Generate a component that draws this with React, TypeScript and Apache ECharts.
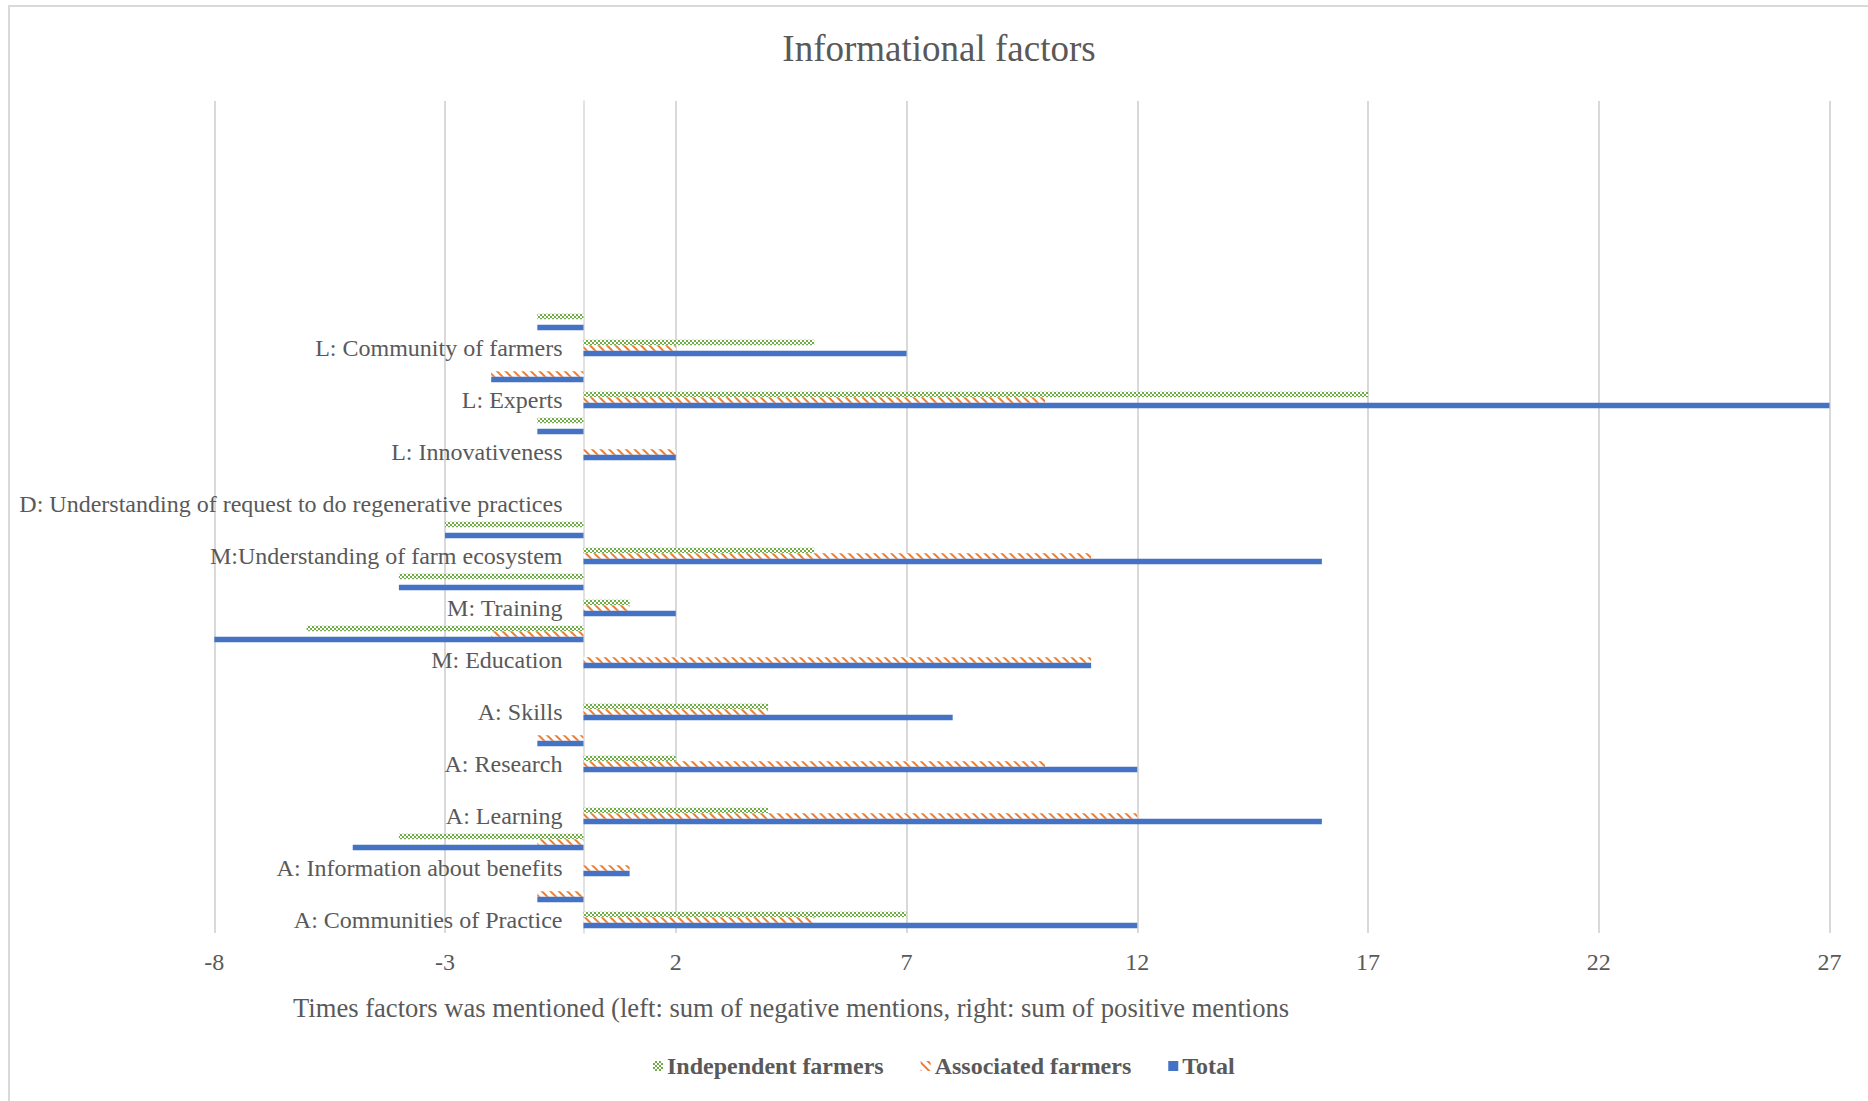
import React, { useEffect, useRef } from "react";
import * as echarts from "echarts";

// Factor names, bottom to top on the category axis
const categories = [
  "A: Communities of Practice",
  "A: Information about benefits",
  "A: Learning",
  "A: Research",
  "A: Skills",
  "M: Education",
  "M: Training",
  "M:Understanding of farm ecosystem",
  "D: Understanding of request to do regenerative practices",
  "L: Innovativeness",
  "L: Experts",
  "L: Community of farmers",
];

// Sum of positive mentions per factor
const independentPositive = [7, 0, 4, 2, 4, 0, 1, 5, 0, 0, 17, 5];
const associatedPositive = [5, 1, 12, 10, 4, 11, 1, 11, 0, 2, 10, 2];
const totalPositive = [12, 1, 16, 12, 8, 11, 2, 16, 0, 2, 27, 7];

// Sum of negative mentions per factor
const independentNegative = [0, -4, 0, 0, 0, -6, -4, -3, 0, -1, 0, -1];
const associatedNegative = [-1, -1, 0, -1, 0, -2, 0, 0, 0, 0, -2, 0];
const totalNegative = [-1, -5, 0, -1, 0, -8, -4, -3, 0, -1, -2, -1];

// Unused category slots left empty above the last factor
const emptySlotsAbove = 4;

// Value axis range and tick step
const valueMin = -8;
const valueMax = 27;
const valueStep = 5;

const seriesNames = ["Independent farmers", "Associated farmers", "Total"];

const TEXT = "#595959";
const GRID = "#d9d9d9";
const FONT = "'Liberation Serif', 'Times New Roman', serif";

// Plot rectangle
const GRID_LEFT = 214.3;
const GRID_RIGHT = 38.5;
const GRID_WIDTH = 1868 - GRID_LEFT - GRID_RIGHT;
// The category axis sits where the value axis reads zero
const zeroOffset = (GRID_WIDTH * (0 - valueMin)) / (valueMax - valueMin);

// Each factor gets two rows: positive mentions (labelled) with its negative row just above
const rowLabels: string[] = [];
categories.forEach((c) => {
  rowLabels.push(c);
  rowLabels.push("");
});
for (let i = 0; i < emptySlotsAbove * 2; i++) rowLabels.push("");
const rowKeys = rowLabels.map((_, i) => "row" + i);
const labelByKey: Record<string, string> = {};
rowKeys.forEach((k, i) => (labelByKey[k] = rowLabels[i]));

function rows(pos: number[], neg: number[]) {
  const out: (number | null)[] = [];
  pos.forEach((p, i) => {
    out.push(p === 0 ? null : p);
    out.push(neg[i] === 0 ? null : neg[i]);
  });
  for (let i = 0; i < emptySlotsAbove * 2; i++) out.push(null);
  return out;
}

const independentRows = rows(independentPositive, independentNegative);
const associatedRows = rows(associatedPositive, associatedNegative);
const totalRows = rows(totalPositive, totalNegative);

const BAR_W = 5.5;

const option: any = {
  animation: false,
  backgroundColor: "#ffffff",
  graphic: [
    {
      type: "rect",
      silent: true,
      shape: { x: 9, y: 6, width: 1880, height: 1120 },
      style: { fill: "none", stroke: GRID, lineWidth: 2 },
    },
    {
      type: "text",
      x: 939,
      y: 48,
      style: {
        text: "Informational factors",
        font: `37px ${FONT}`,
        fill: TEXT,
        align: "center",
        verticalAlign: "middle",
      },
    },
    {
      type: "text",
      x: 293,
      y: 1008,
      style: {
        text: "Times factors was mentioned (left: sum of negative mentions, right: sum of positive mentions",
        font: `26.6px ${FONT}`,
        fill: TEXT,
        align: "left",
        verticalAlign: "middle",
      },
    },
  ],
  legend: {
    data: seriesNames,
    left: 648,
    top: 1049,
    icon: "rect",
    itemWidth: 10,
    itemHeight: 10,
    itemGap: 37,
    textStyle: {
      color: TEXT,
      fontSize: 24,
      fontWeight: "bold",
      fontFamily: FONT,
      padding: [0, 0, 0, -1],
    },
  },
  grid: {
    left: GRID_LEFT,
    right: GRID_RIGHT,
    top: 101,
    bottom: 168,
    containLabel: false,
    outerBoundsMode: "none",
  },
  xAxis: {
    type: "value",
    min: valueMin,
    max: valueMax,
    interval: valueStep,
    axisLine: { show: false },
    axisTick: { show: false },
    splitLine: { show: true, lineStyle: { color: GRID, width: 2 } },
    axisLabel: { color: TEXT, fontSize: 24, fontFamily: FONT, margin: 17 },
  },
  yAxis: {
    type: "category",
    data: rowKeys,
    position: "left",
    offset: -zeroOffset,
    axisLine: { show: true, onZero: false, lineStyle: { color: GRID, width: 1.5 } },
    axisTick: { show: false },
    splitLine: { show: false },
    axisLabel: {
      interval: 0,
      margin: 21,
      color: TEXT,
      fontSize: 24,
      fontFamily: FONT,
      formatter: (v: string) => labelByKey[v] ?? "",
    },
  },
  series: [
    {
      name: seriesNames[0],
      type: "bar",
      data: independentRows,
      barWidth: BAR_W,
      barGap: "0%",
      itemStyle: {
        color: "#ffffff",
        decal: {
          symbol: "rect",
          symbolSize: 1,
          color: "#70AD47",
          dashArrayX: [
            [1.5, 1.5],
            [0, 1.5, 1.5, 0],
          ],
          dashArrayY: [1.5, 0],
          rotation: 0,
        },
      },
    },
    {
      name: seriesNames[1],
      type: "bar",
      data: associatedRows,
      barWidth: BAR_W,
      barGap: "0%",
      itemStyle: {
        color: "#ffffff",
        decal: {
          symbol: "rect",
          symbolSize: 1,
          color: "#ED7D31",
          dashArrayX: [1, 0],
          dashArrayY: [2, 4],
          rotation: Math.PI / 4,
        },
      },
    },
    {
      name: seriesNames[2],
      type: "bar",
      data: totalRows,
      barWidth: BAR_W,
      barGap: "0%",
      itemStyle: { color: "#4472C4" },
    },
  ],
};

export default function App() {
  const ref = useRef<HTMLDivElement>(null);
  useEffect(() => {
    if (!ref.current) return;
    const chart = echarts.init(ref.current, null, { renderer: "svg" });
    chart.setOption(option);
    return () => chart.dispose();
  }, []);
  return (
    <div
      ref={ref}
      style={{ position: "fixed", left: 0, top: 0, width: 1868, height: 1101, background: "#fff" }}
    />
  );
}
